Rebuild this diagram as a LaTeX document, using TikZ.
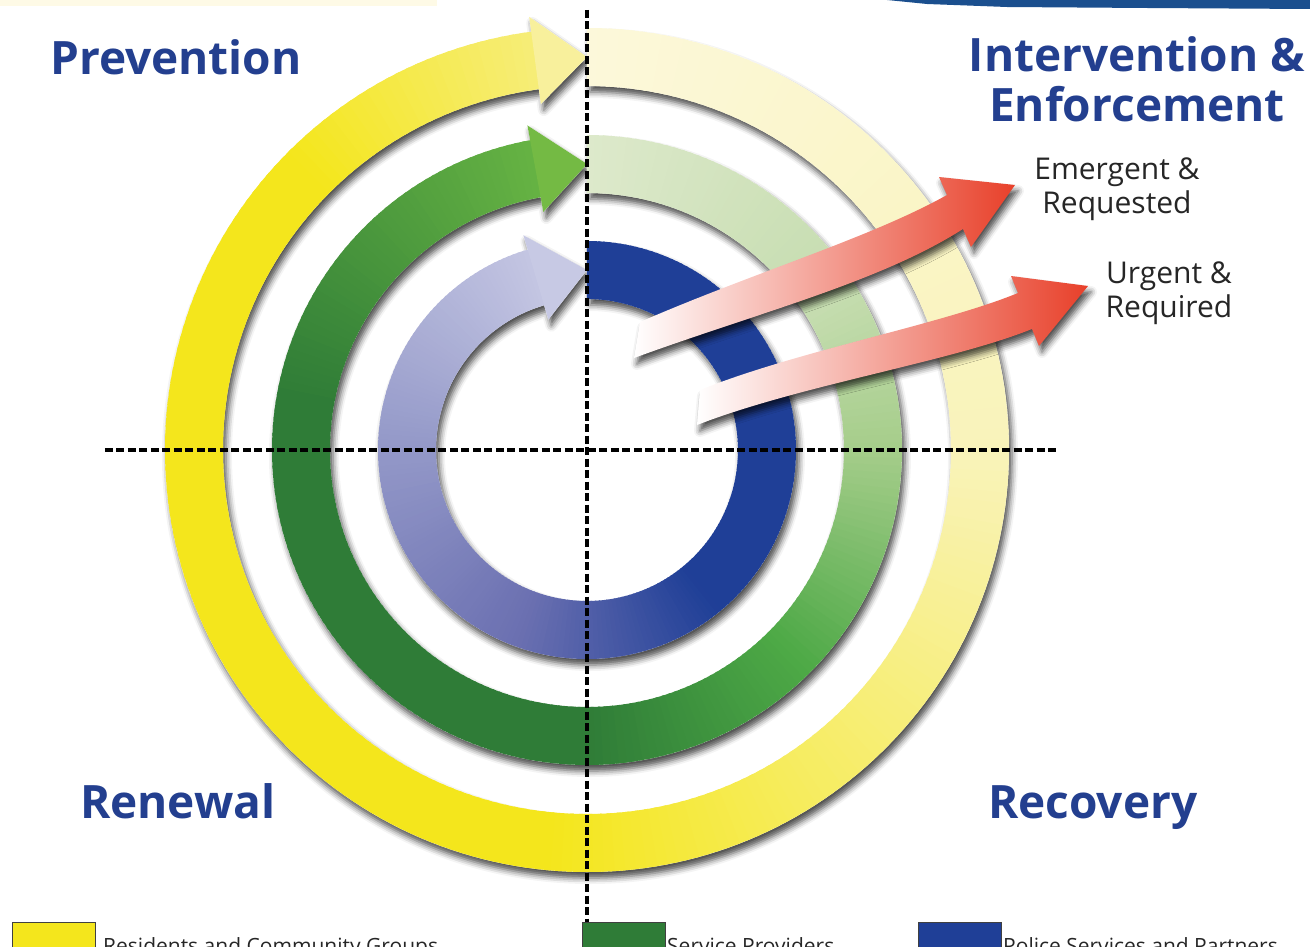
\documentclass[tikz,border=0pt]{standalone}
\usepackage{fontspec}
\setmainfont{Open Sans}
\usepackage{tikz}
\usetikzlibrary{calc,shadows.blur}

\definecolor{headblue}{HTML}{233F8F}
\definecolor{bannerblue}{HTML}{1B4F8E}
\definecolor{toppale}{HTML}{FEFAE6}
\definecolor{arrowred}{HTML}{E8402A}
% yellow ring
\definecolor{yelA}{HTML}{FCF8DA}
\definecolor{yelB}{HTML}{F9F3BA}
\definecolor{yelC}{HTML}{F6EC5A}
\definecolor{yelD}{HTML}{F4E61C}
\definecolor{yelE}{HTML}{F6ED78}
\definecolor{yelF}{HTML}{F8F09C}
% green ring
\definecolor{grnA}{HTML}{DDE9CB}
\definecolor{grnB}{HTML}{C4DCAE}
\definecolor{grnC}{HTML}{A5CD8A}
\definecolor{grnD}{HTML}{4DA946}
\definecolor{grnE}{HTML}{2F7C37}
\definecolor{grnF}{HTML}{66B343}
\definecolor{grnG}{HTML}{74BA44}
% blue ring
\definecolor{bluA}{HTML}{1F3F97}
\definecolor{bluB}{HTML}{6B70B1}
\definecolor{bluC}{HTML}{9398C8}
\definecolor{bluD}{HTML}{C3C5E2}
\definecolor{bluE}{HTML}{C7C9E4}

\def\bandw{29}
% one stretch of a ring, shaded from #4 to #5 going clockwise from #2 to #3
\def\ringleg(#1)(#2:#3)(#4:#5){%
	\pgfmathsetmacro\ro{#1+\bandw}%
	\pgfmathsetmacro\ri{#1-\bandw}%
	\pgfmathtruncatemacro\nseg{abs(#2-(#3))/1.5+1}%
	\foreach \k in {1,...,\nseg}{%
		\pgfmathsetmacro\ta{#2+((#3)-(#2))*(\k-1)/\nseg}%
		\pgfmathsetmacro\tb{#2+((#3)-(#2))*\k/\nseg-0.6}%
		\pgfmathtruncatemacro\mx{100*(\k-0.5)/\nseg}%
		\fill[#5!\mx!#4] (\ta:\ro) arc[start angle=\ta, end angle=\tb, radius=\ro] -- (\tb:\ri) arc[start angle=\tb, end angle=\ta, radius=\ri] -- cycle;
	}%
}
% white body with its shadow, radius #1, head angle #2
\def\ringbase(#1)(#2){%
	\pgfmathsetmacro\ro{#1+\bandw}\pgfmathsetmacro\ri{#1-\bandw}%
	\pgfmathsetmacro\hb{90+#2}\pgfmathsetmacro\he{#2-270}%
	\pgfmathsetmacro\hu{#1+44}\pgfmathsetmacro\hd{#1-44}%
	\fill[white, ringshadow] (90:\ro) arc[start angle=90, end angle=\he, radius=\ro] -- (\hb:\hu) -- (90:#1) -- (\hb:\hd) -- (\he:\ri) arc[start angle=\he, end angle=90, radius=\ri] -- cycle;
}
\def\ringhead(#1)(#2)(#3){%
	\pgfmathsetmacro\hb{90+#2}\pgfmathsetmacro\hu{#1+44}\pgfmathsetmacro\hd{#1-44}%
	\fill[#3] (\hb:\hu) -- (90:#1) -- (\hb:\hd) -- cycle;
}

\tikzset{
	ringshadow/.style={blur shadow={shadow xshift=3pt, shadow yshift=-6pt, shadow blur radius=6pt, shadow opacity=70}},
	axisline/.style={line width=3.4pt, dash pattern=on 8pt off 3.5pt, black},
	headlbl/.style={text=headblue, inner sep=0pt, font=\fontsize{46}{50}\selectfont\bfseries},
	sublbl/.style={text=black!85, inner sep=0pt, font=\fontsize{30}{34}\selectfont},
	legkey/.style={draw=black!75, line width=1pt, minimum width=83pt, minimum height=40pt, inner sep=0pt},
	legtxt/.style={text=black!85, inner sep=0pt, font=\fontsize{21}{24}\selectfont}
}

\begin{document}
\begin{tikzpicture}[x=1pt, y=1pt]
		%%%%% START %%%%%
		\useasboundingbox (-587,-496) rectangle (723,450);
		\clip (-587,-496) rectangle (723,450);
		
		\fill[toppale] (-587,450) rectangle (-150,444);
		\fill[bannerblue] (300,450) -- (723,450) -- (723,441) -- (560,442) -- (420,443) -- (340,446) -- cycle;
		
		% yellow ring
		\ringbase(393)(7.6)
		\foreach \a/\b/\ca/\cb in {90/0/yelA/yelB, 0/-60/yelB/yelC, -60/-95/yelC/yelD, -95/-225/yelD/yelD, -225/-262.4/yelD/yelE}
			{\ringleg(393)(\a:\b)(\ca:\cb)}
		\ringhead(393)(7.6)(yelF)
		
		% green ring
		\ringbase(286)(10.4)
		\foreach \a/\b/\ca/\cb in {90/30/grnA/grnB, 30/0/grnB/grnC, 0/-45/grnC/grnD, -45/-90/grnD/grnE, -90/-190/grnE/grnE, -190/-259.6/grnE/grnF}
			{\ringleg(286)(\a:\b)(\ca:\cb)}
		\ringhead(286)(10.4)(grnG)
		
		% blue ring
		\ringbase(180)(16.5)
		\foreach \a/\b/\ca/\cb in {90/-50/bluA/bluA, -50/-110/bluA/bluB, -110/-180/bluB/bluC, -180/-253.5/bluC/bluD}
			{\ringleg(180)(\a:\b)(\ca:\cb)}
		\ringhead(180)(16.5)(bluE)
		
		% red arrows
		\shade[left color=white, middle color=arrowred!40!white, right color=arrowred, ringshadow]
			(53,128) .. controls (168,178) and (283,212) .. (360,255) -- (352,273) -- (428,265) -- (384,203) -- (376,221)
			.. controls (293,168) and (173,138) .. (47,92) -- cycle;
		\shade[left color=white, middle color=arrowred!40!white, right color=arrowred, ringshadow]
			(113,60) .. controls (213,100) and (353,125) .. (431,157) -- (424,174) -- (501,164) -- (452,104) -- (445,121)
			.. controls (363,88) and (213,65) .. (110,25) -- cycle;
		
		% axes
		\coordinate (vtop) at (0,440);
		\coordinate (vbot) at (0,-472);
		\coordinate (hleft) at (-482,0);
		\coordinate (hright) at (471,0);
		\draw[axisline] (hleft) -- (hright);
		\draw[axisline] (vtop) -- (vbot);
		
		% quadrant names
		\node[headlbl, anchor=base west] (prev) at (-537,375) {Prevention};
		\node[headlbl, anchor=north, align=center] (interv) at (550,414) {Intervention \&\\Enforcement};
		\node[headlbl, anchor=base west] (renew) at (-507,-368) {Renewal};
		\node[headlbl, anchor=base west] (recov) at (401,-368) {Recovery};
		
		\node[sublbl, anchor=north, align=center] (emerg) at (530,292) {Emergent \&\\Requested};
		\node[sublbl, anchor=north, align=center] (urgent) at (582,188) {Urgent \&\\Required};
		
		% legend
		\node[legkey, fill=yelD, anchor=north west] (keyres) at (-575,-472) {};
		\node[legtxt, anchor=north west] (txtres) at (-484,-487) {Residents and Community Groups};
		\node[legkey, fill=grnE, anchor=north west] (keyserv) at (-5,-472) {};
		\node[legtxt, anchor=north west] (txtserv) at (80,-487) {Service Providers};
		\node[legkey, fill=bluA, anchor=north west] (keypol) at (331,-472) {};
		\node[legtxt, anchor=north west] (txtpol) at (416,-487) {Police Services and Partners};
		
		%%%%% END %%%%%
\end{tikzpicture}
\end{document}
